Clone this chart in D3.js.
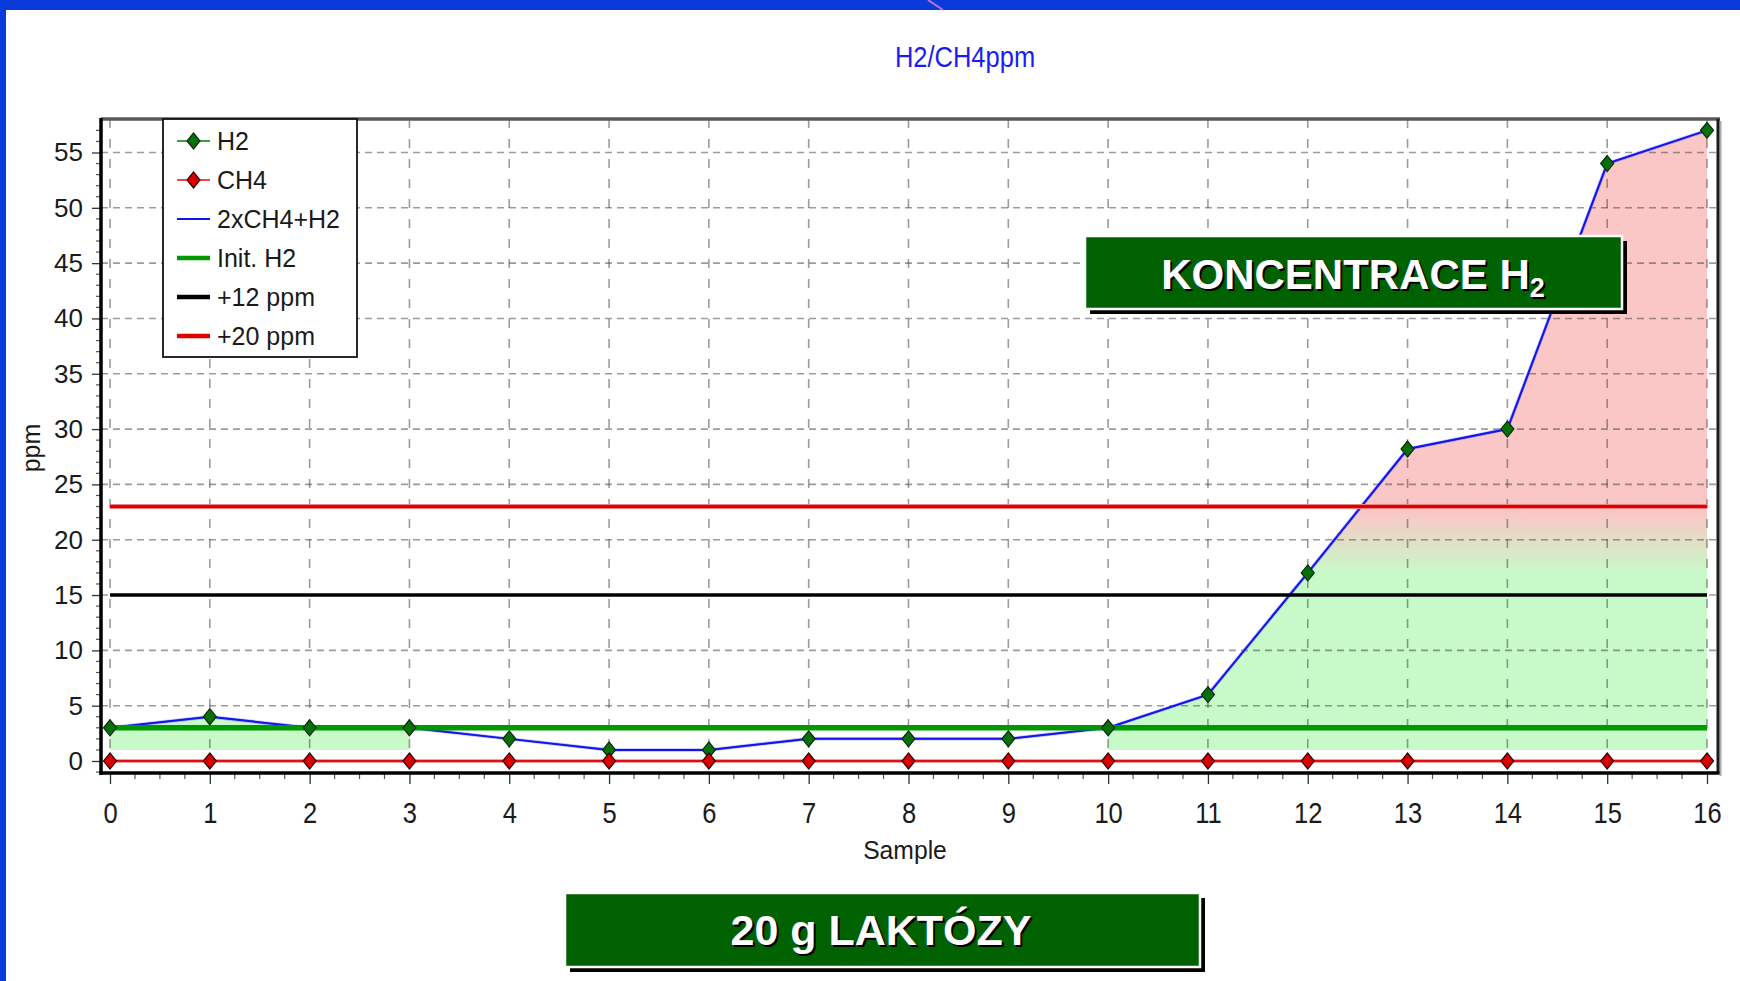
<!DOCTYPE html>
<html>
<head>
<meta charset="utf-8">
<script src="https://cdn.jsdelivr.net/npm/d3@7"></script>
<style>
  html, body { margin: 0; padding: 0; background: #ffffff; }
  svg { display: block; }
  text { font-family: "Liberation Sans", Arial, sans-serif; }
</style>
</head>
<body>
<svg id="chart" width="1740" height="981"></svg>
<script>
// ---------------- data ----------------
const samples = [0, 1, 2, 3, 4, 5, 6, 7, 8, 9, 10, 11, 12, 13, 14, 15, 16];
const h2Values = [3, 4, 3, 3, 2, 1, 1, 2, 2, 2, 3, 6, 17, 28.2, 30, 54, 57];
const ch4Values = [0, 0, 0, 0, 0, 0, 0, 0, 0, 0, 0, 0, 0, 0, 0, 0, 0];
const initH2 = 3;
const plus12 = 15;
const plus20 = 23;
const fillBase = 1;
const yTickValues = [0, 5, 10, 15, 20, 25, 30, 35, 40, 45, 50, 55];
const legendLabels = ["H2", "CH4", "2xCH4+H2", "Init. H2", "+12 ppm", "+20 ppm"];
const titleText = "H2/CH4ppm";
const xTitle = "Sample";
const yTitle = "ppm";
const boxTopText = "KONCENTRACE H";
const boxTopSub = "2";
const boxBottomText = "20 g LAKTÓZY";

const combined = samples.map((s, i) => ({ s, v: 2 * ch4Values[i] + h2Values[i] }));
const h2Pts = samples.map((s, i) => ({ s, v: h2Values[i] }));
const ch4Pts = samples.map((s, i) => ({ s, v: ch4Values[i] }));

// ---------------- layout ----------------
const svg = d3.select("#chart");
const frame = { left: 101, right: 1718, top: 119, bottom: 773 };
const x = d3.scaleLinear().domain([0, 16]).range([110, 1707]);
const y = d3.scaleLinear().domain([0, 55]).range([761, 152.5]);

// background + blue slide border
svg.append("rect").attr("width", 1740).attr("height", 981).attr("fill", "#ffffff");
svg.append("rect").attr("x", 0).attr("y", 0).attr("width", 1740).attr("height", 10).attr("fill", "#0a3adb");
svg.append("rect").attr("x", 0).attr("y", 0).attr("width", 6).attr("height", 981).attr("fill", "#0a3adb");
svg.append("line").attr("x1", 928).attr("y1", 0).attr("x2", 943).attr("y2", 10)
  .attr("stroke", "#b878e8").attr("stroke-width", 2);

// title
svg.append("text")
  .attr("transform", "translate(965,67) scale(0.85,1)")
  .attr("text-anchor", "middle")
  .attr("font-size", 30)
  .attr("fill", "#1c1cf0")
  .text(titleText);

// gradient for area fill
const defs = svg.append("defs");
const grad = defs.append("linearGradient")
  .attr("id", "fillGrad")
  .attr("gradientUnits", "userSpaceOnUse")
  .attr("x1", 0).attr("x2", 0)
  .attr("y1", y(17)).attr("y2", y(22.5));
grad.append("stop").attr("offset", 0).attr("stop-color", "#c8f9c8");
grad.append("stop").attr("offset", 1).attr("stop-color", "#fac6c6");

const area = d3.area()
  .defined(d => d.v >= initH2)
  .x(d => x(d.s))
  .y0(y(fillBase))
  .y1(d => y(d.v));
svg.append("path").datum(combined).attr("d", area).attr("fill", "url(#fillGrad)");

// grid
const grid = svg.append("g").attr("stroke", "#4a4a4a").attr("stroke-opacity", 0.55).attr("stroke-width", 1.6);
grid.selectAll("line.h").data(yTickValues.filter(v => v > 0)).join("line")
  .attr("x1", frame.left).attr("x2", frame.right)
  .attr("y1", d => y(d)).attr("y2", d => y(d))
  .attr("stroke-dasharray", "7,5");
grid.selectAll("line.v").data(samples).join("line")
  .attr("x1", d => x(d)).attr("x2", d => x(d))
  .attr("y1", frame.top).attr("y2", frame.bottom)
  .attr("stroke-dasharray", "9,11");

// series lines
const line = d3.line().x(d => x(d.s)).y(d => y(d.v));
svg.append("path").datum(h2Pts).attr("d", line).attr("fill", "none")
  .attr("stroke", "#008000").attr("stroke-width", 1.5);
svg.append("path").datum(combined).attr("d", line).attr("fill", "none")
  .attr("stroke", "#8080ff").attr("stroke-width", 3.5).attr("stroke-opacity", 0.5);
svg.append("path").datum(combined).attr("d", line).attr("fill", "none")
  .attr("stroke", "#1414f0").attr("stroke-width", 2);

// reference lines
function hLine(v, color, w) {
  svg.append("line")
    .attr("x1", x(samples[0])).attr("x2", x(samples[samples.length - 1]))
    .attr("y1", y(v)).attr("y2", y(v))
    .attr("stroke", color).attr("stroke-width", w);
}
hLine(initH2, "#009a00", 5.5);
hLine(plus12, "#000000", 3.5);
hLine(plus20, "#f08080", 5);
hLine(plus20, "#e00000", 3);

// CH4 line
svg.append("path").datum(ch4Pts).attr("d", line).attr("fill", "none")
  .attr("stroke", "#f4a0a0").attr("stroke-width", 4);
svg.append("path").datum(ch4Pts).attr("d", line).attr("fill", "none")
  .attr("stroke", "#e01010").attr("stroke-width", 2);

// markers
const diamond = "M0,-8 L6.5,0 L0,8 L-6.5,0 Z";
svg.append("g").selectAll("path").data(h2Pts).join("path")
  .attr("d", diamond)
  .attr("transform", d => `translate(${x(d.s)},${y(d.v)})`)
  .attr("fill", "#087008").attr("stroke", "#0a2a0a").attr("stroke-width", 1.2);
svg.append("g").selectAll("path").data(ch4Pts).join("path")
  .attr("d", diamond)
  .attr("transform", d => `translate(${x(d.s)},${y(d.v)})`)
  .attr("fill", "#d80000").attr("stroke", "#3a0000").attr("stroke-width", 1.2);

// frame
svg.append("line").attr("x1", frame.left).attr("x2", frame.right + 2)
  .attr("y1", frame.top).attr("y2", frame.top).attr("stroke", "#5a5a5a").attr("stroke-width", 3.5);
svg.append("line").attr("x1", frame.right + 2.5).attr("x2", frame.right + 2.5)
  .attr("y1", frame.top + 2).attr("y2", frame.bottom + 3).attr("stroke", "#aaaaaa").attr("stroke-width", 2);
svg.append("line").attr("x1", frame.right).attr("x2", frame.right)
  .attr("y1", frame.top).attr("y2", frame.bottom).attr("stroke", "#1a1a1a").attr("stroke-width", 3);

// y axis
const yAxis = d3.axisLeft(y).tickValues(yTickValues).tickSize(9).tickPadding(9);
const gy = svg.append("g").attr("transform", `translate(${frame.left},0)`).call(yAxis);
gy.select(".domain").remove();
gy.selectAll(".tick line").attr("stroke", "#333").attr("stroke-width", 1.3);
gy.selectAll(".tick text").attr("font-size", 26).attr("fill", "#1a1a1a")
  .attr("font-family", "Liberation Sans, Arial, sans-serif");
const yMinor = d3.range(-1, 58).filter(v => v % 5 !== 0);
svg.append("g").selectAll("line").data(yMinor).join("line")
  .attr("x1", frame.left - 5).attr("x2", frame.left)
  .attr("y1", d => y(d)).attr("y2", d => y(d))
  .attr("stroke", "#555").attr("stroke-width", 1.2);

// x axis
const xAxis = d3.axisBottom(x).tickValues(samples).tickSize(11).tickFormat(d3.format("d"));
const gx = svg.append("g").attr("transform", `translate(0,${frame.bottom})`).call(xAxis);
gx.select(".domain").remove();
gx.selectAll(".tick line").attr("stroke", "#333").attr("stroke-width", 1.3);
gx.selectAll(".tick text")
  .attr("y", 0).attr("dy", 0)
  .attr("transform", "translate(0,50) scale(0.88,1)")
  .attr("font-size", 29).attr("fill", "#1a1a1a")
  .attr("font-family", "Liberation Sans, Arial, sans-serif");
const xMinor = d3.range(0, 16.01, 0.25).filter(v => Math.abs(v - Math.round(v)) > 0.01);
svg.append("g").selectAll("line").data(xMinor).join("line")
  .attr("x1", d => x(d)).attr("x2", d => x(d))
  .attr("y1", frame.bottom).attr("y2", frame.bottom + 6)
  .attr("stroke", "#555").attr("stroke-width", 1.2);

// axis lines (thick)
svg.append("line").attr("x1", frame.left).attr("x2", frame.left)
  .attr("y1", frame.top - 1).attr("y2", frame.bottom + 2).attr("stroke", "#000").attr("stroke-width", 3.5);
svg.append("line").attr("x1", frame.left - 1.5).attr("x2", frame.right + 1.5)
  .attr("y1", frame.bottom).attr("y2", frame.bottom).attr("stroke", "#000").attr("stroke-width", 3.5);

// axis titles
svg.append("text").attr("transform", "translate(905,859) scale(0.95,1)")
  .attr("text-anchor", "middle").attr("font-size", 26).attr("fill", "#1a1a1a").text(xTitle);
svg.append("text").attr("transform", "translate(40,448) rotate(-90)")
  .attr("text-anchor", "middle").attr("font-size", 25).attr("fill", "#1a1a1a").text(yTitle);

// legend
const leg = svg.append("g");
leg.append("rect").attr("x", 163).attr("y", 119).attr("width", 194).attr("height", 238)
  .attr("fill", "#ffffff").attr("stroke", "#111").attr("stroke-width", 1.8);
const legStyles = [
  { color: "#008000", w: 1.5, marker: "#087008", mstroke: "#0a2a0a" },
  { color: "#e01010", w: 1.5, marker: "#d80000", mstroke: "#3a0000" },
  { color: "#1414f0", w: 2, marker: null },
  { color: "#009a00", w: 4.5, marker: null },
  { color: "#000000", w: 4.5, marker: null },
  { color: "#e00000", w: 4.5, marker: null }
];
legendLabels.forEach((lab, i) => {
  const cy = 141 + i * 39;
  const st = legStyles[i];
  leg.append("line").attr("x1", 177).attr("x2", 210).attr("y1", cy).attr("y2", cy)
    .attr("stroke", st.color).attr("stroke-width", st.w);
  if (st.marker) {
    leg.append("path").attr("d", diamond).attr("transform", `translate(193.5,${cy})`)
      .attr("fill", st.marker).attr("stroke", st.mstroke).attr("stroke-width", 1.2);
  }
  leg.append("text").attr("x", 217).attr("y", cy + 9).attr("font-size", 25)
    .attr("fill", "#1a1a1a").text(lab);
});

// annotation boxes
function box(x0, y0, w, h) {
  svg.append("rect").attr("x", x0 + 5).attr("y", y0 + 5).attr("width", w).attr("height", h).attr("fill", "#000");
  svg.append("rect").attr("x", x0).attr("y", y0).attr("width", w).attr("height", h)
    .attr("fill", "#006100").attr("stroke", "#ffffff").attr("stroke-width", 2.5);
}
box(1085, 236, 537, 73);
function shadowText(tx, ty, size, build) {
  const t1 = svg.append("text").attr("x", tx + 2).attr("y", ty + 2).attr("text-anchor", "middle")
    .attr("font-size", size).attr("font-weight", "bold").attr("fill", "#000");
  build(t1);
  const t2 = svg.append("text").attr("x", tx).attr("y", ty).attr("text-anchor", "middle")
    .attr("font-size", size).attr("font-weight", "bold").attr("fill", "#fff");
  build(t2);
}
shadowText(1353, 289, 42, t => {
  t.append("tspan").text(boxTopText);
  t.append("tspan").attr("font-size", 27).attr("dy", 8).text(boxTopSub);
});
box(565, 893, 635, 74);
shadowText(881, 945, 43, t => t.text(boxBottomText));
</script>
</body>
</html>
